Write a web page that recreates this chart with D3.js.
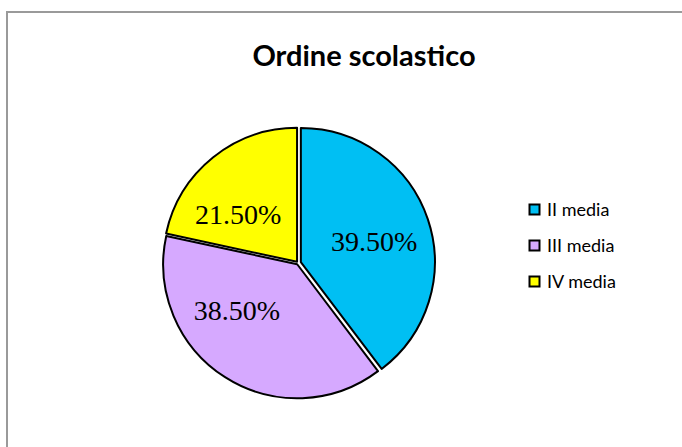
<!DOCTYPE html>
<html>
<head>
<meta charset="utf-8">
<script src="https://cdn.jsdelivr.net/npm/d3@7"></script>
<style>
  html, body { margin: 0; padding: 0; background: #fff; }
  svg { display: block; }
</style>
</head>
<body>
<svg id="chart" width="682" height="447"></svg>
<script>
const title = "Ordine scolastico";
const categories = ["II media", "III media", "IV media"];
const values = [39.5, 38.5, 21.5];
const labels = ["39.50%", "38.50%", "21.50%"];
const colors = ["#00BFF3", "#D6A9FF", "#FFFF00"];

// layout constants (not data)
const explode = [3, 1.5, 1.5];
const labelAngleNudge = [3, 20, -12]; // degrees
const labelRadius = 76;

const svg = d3.select("#chart");

// frame
svg.append("rect")
  .attr("x", 7).attr("y", 12)
  .attr("width", 700).attr("height", 460)
  .attr("fill", "#fff")
  .attr("stroke", "#9a9a9a").attr("stroke-width", 2);

// title
svg.append("text")
  .attr("x", 364).attr("y", 66)
  .attr("text-anchor", "middle")
  .attr("font-family", "Lato, 'Open Sans', sans-serif")
  .attr("font-weight", "bold")
  .attr("font-size", 29)
  .attr("fill", "#000")
  .text(title);

const cx = 298, cy = 263, r = 134;
const data = categories.map((c, i) => ({ i, cat: c, value: values[i], label: labels[i], color: colors[i] }));

const pie = d3.pie().sort(null).value(d => d.value);
const arc = d3.arc().innerRadius(0).outerRadius(r);

const g = svg.append("g").attr("transform", `translate(${cx},${cy})`);
const arcs = pie(data);

const slice = g.selectAll("g.slice").data(arcs).join("g")
  .attr("class", "slice")
  .attr("transform", d => {
    const a = (d.startAngle + d.endAngle) / 2;
    const ex = explode[d.data.i];
    return `translate(${Math.sin(a) * ex},${-Math.cos(a) * ex})`;
  });

slice.append("path")
  .attr("d", arc)
  .attr("fill", d => d.data.color)
  .attr("stroke", "#000")
  .attr("stroke-width", 2)
  .attr("stroke-linejoin", "round");

slice.append("text")
  .attr("transform", d => {
    const a = (d.startAngle + d.endAngle) / 2 + labelAngleNudge[d.data.i] * Math.PI / 180;
    return `translate(${Math.sin(a) * labelRadius},${-Math.cos(a) * labelRadius})`;
  })
  .attr("text-anchor", "middle")
  .attr("dy", "0.35em")
  .attr("font-family", "'Liberation Serif', serif")
  .attr("font-size", 28)
  .attr("fill", "#000")
  .text(d => d.data.label);

// legend
const legend = svg.append("g").attr("transform", "translate(529.5,204.5)");
const item = legend.selectAll("g").data(data).join("g")
  .attr("transform", (d, i) => `translate(0,${i * 36})`);
item.append("rect")
  .attr("width", 10).attr("height", 10)
  .attr("fill", d => d.color)
  .attr("stroke", "#000").attr("stroke-width", 2);
item.append("text")
  .attr("x", 17.5).attr("y", 11.5)
  .attr("font-family", "Lato, 'Open Sans', sans-serif")
  .attr("font-size", 18)
  .attr("fill", "#000")
  .text(d => d.cat);
</script>
</body>
</html>
